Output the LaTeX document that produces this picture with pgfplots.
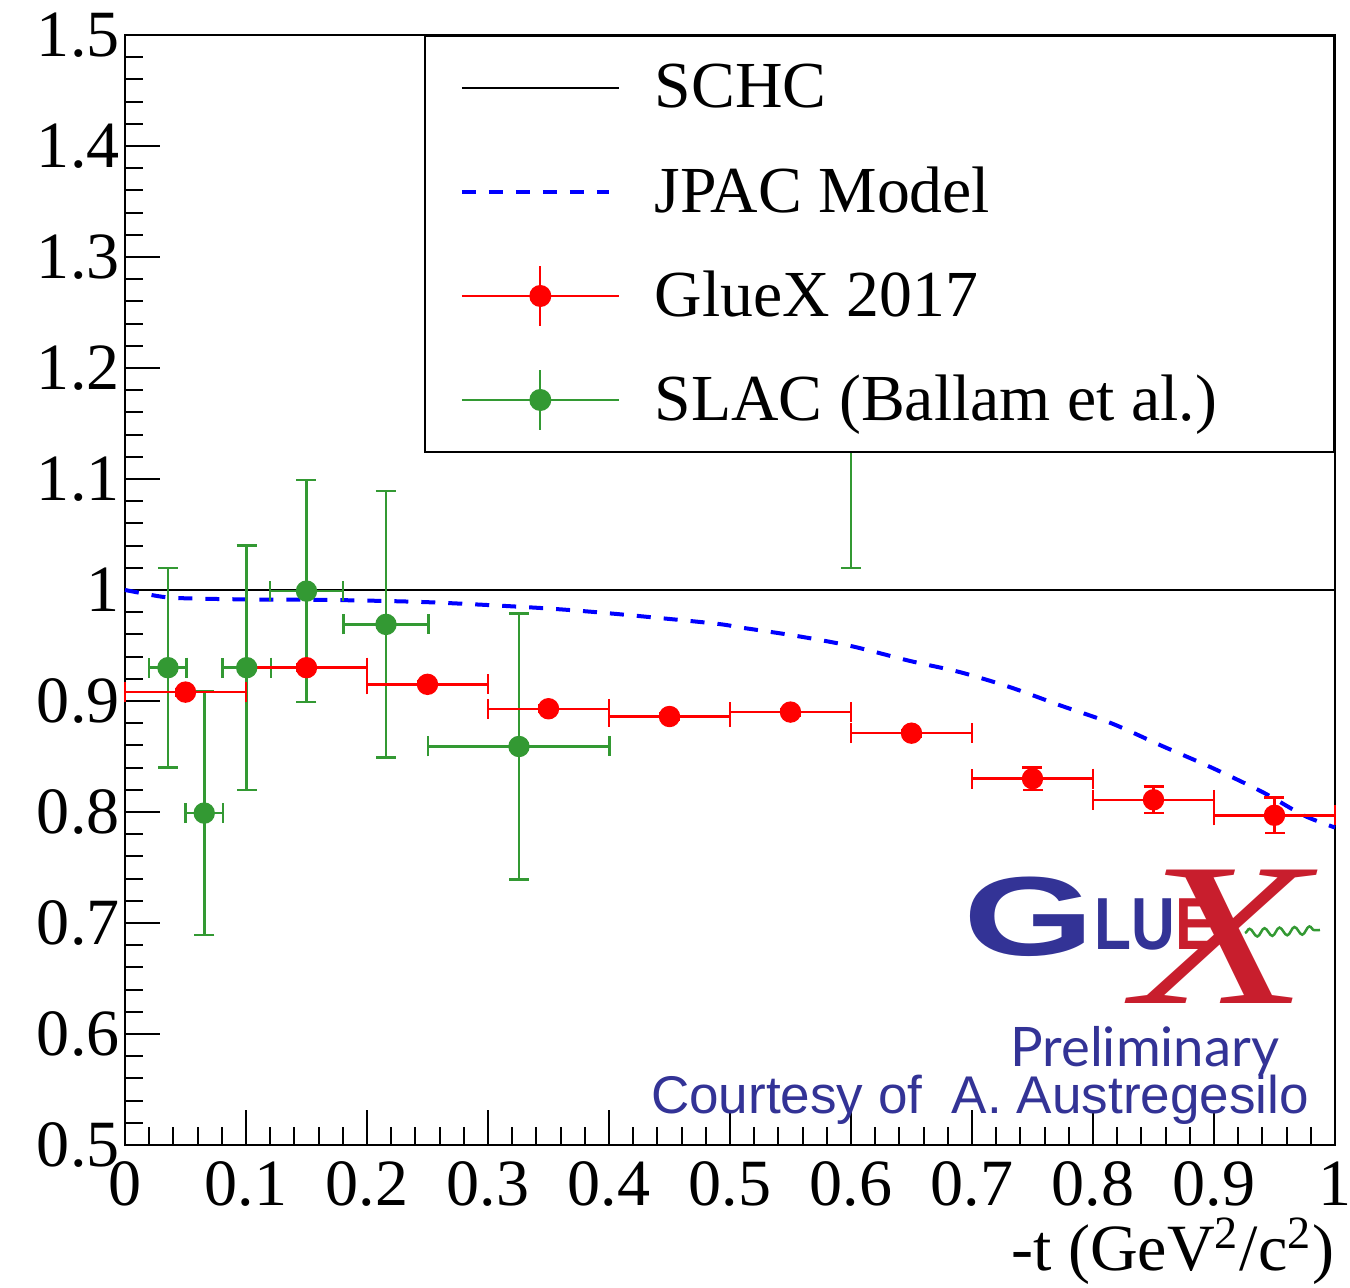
\documentclass[border=0pt]{standalone}
\usepackage{fontspec}
\setmainfont{Liberation Serif}
\newfontfamily\lsans{Liberation Sans}
\newfontfamily\lato{Lato}
\usepackage{pgfplots}
\pgfplotsset{compat=1.18}
\usetikzlibrary{decorations.pathmorphing, arrows.meta}
\definecolor{rootgreen}{RGB}{51,153,51}
\definecolor{logoblue}{RGB}{51,51,150}
\definecolor{logored}{RGB}{200,30,45}
\newcommand\tickf{\fontsize{18.8}{22}\selectfont}
\newcommand\legf{\fontsize{18.7}{22}\selectfont}

\begin{document}
\begin{tikzpicture}
\useasboundingbox (-12.5mm,-14.3mm) rectangle (122.5mm,114.5mm);
\begin{axis}[
  at={(0,0)}, anchor=south west,
  width=121mm, height=111mm, scale only axis,
  xmin=0, xmax=1, ymin=0.5, ymax=1.5,
  xtick={0,0.1,0.2,0.3,0.4,0.5,0.6,0.7,0.8,0.9,1},
  ytick={0.5,0.6,0.7,0.8,0.9,1,1.1,1.2,1.3,1.4,1.5},
  minor tick num=4,
  tick pos=left, tick align=inside,
  major tick length=3.5mm, minor tick length=1.8mm,
  axis line style={line width=0.25mm},
  tick style={black, line width=0.2mm},
  /pgf/number format/assume math mode=true,
  ticklabel style={font=\tickf},
  yticklabel style={xshift=0.7mm},
  xticklabel style={yshift=-0.4mm},
  xlabel={-t (GeV\textsuperscript{2}/c\textsuperscript{2})},
  xlabel style={font=\tickf, at={(axis description cs:1,0)}, anchor=base east, yshift=-12.6mm, inner sep=0pt},
  clip=false,
  legend style={at={(rel axis cs:1,1)}, anchor=north east, draw=black, line width=0.2mm, fill=white, font=\legf, inner xsep=3.5mm, inner ysep=0mm, row sep=0pt, column sep=3.5mm, nodes={inner sep=0pt, minimum height=10.4mm}},
  legend cell align=left,
]
% SCHC
\addplot[black, line width=0.2mm, legend image code/.code={\draw[black, line width=0.2mm] (0mm,0mm) -- (15.7mm,0mm);}] coordinates {(0,1) (1,1)};
\addlegendentry{SCHC}
% JPAC model
\addplot[blue, line width=0.4mm, dash pattern=on 1.4mm off 1.3mm, smooth, legend image code/.code={\draw[blue, line width=0.4mm, dash pattern=on 1.4mm off 1.3mm] (0mm,0mm) -- (14.7mm,0mm);}] coordinates {
(0,1.0) (0.03,0.994) (0.05,0.9925) (0.1,0.9915) (0.17,0.991) (0.25,0.989) (0.34,0.984) (0.4,0.979) (0.4856,0.970) (0.51,0.966) (0.555,0.9586) (0.6,0.9495) (0.649,0.936) (0.69,0.926) (0.731,0.9126) (0.773,0.896) (0.815,0.880) (0.856,0.860) (0.898,0.840) (0.94,0.818) (0.974,0.797) (1.0,0.786)
};
\addlegendentry{JPAC Model}
% SLAC (drawn below GlueX)
\addplot[rootgreen, only marks, mark=*, mark size=1mm, forget plot, error bars/.cd, x dir=both, x explicit, y dir=both, y explicit, error bar style={rootgreen, line width=0.25mm}, error mark=-, error mark options={rotate=90, rootgreen, mark size=1mm, line width=0.25mm}] table[x=x, y=y, x error=ex, y error=ey] {
x y ex ey
0.0355 0.930 0.0155 0.090
0.0655 0.799 0.0155 0.110
0.1006 0.930 0.020 0.110
0.150 0.999 0.030 0.100
0.2157 0.969 0.035 0.120
0.3256 0.859 0.075 0.120
0.600 1.160 0.100 0.140
};
% GlueX 2017
\addplot[red, only marks, mark=*, mark size=1mm, legend image code/.code={\draw[red, line width=0.2mm] (0mm,0mm) -- (15.7mm,0mm); \draw[red, line width=0.2mm] (7.85mm,-3mm) -- (7.85mm,3mm); \fill[red] (7.85mm,0mm) circle (1mm);}, error bars/.cd, x dir=both, x explicit, y dir=both, y explicit, error bar style={red, line width=0.25mm}, error mark=-, error mark options={rotate=90, red, mark size=1mm, line width=0.25mm}] table[x=x, y=y, x error=ex, y error=ey] {
x y ex ey
0.05 0.908 0.05 0.003
0.15 0.930 0.05 0.003
0.25 0.915 0.05 0.003
0.35 0.893 0.05 0.003
0.45 0.886 0.05 0.003
0.55 0.890 0.05 0.003
0.65 0.871 0.05 0.003
0.75 0.830 0.05 0.010
0.85 0.811 0.05 0.012
0.95 0.797 0.05 0.016
};
\addlegendentry{GlueX 2017}
\addlegendimage{legend image code/.code={\draw[rootgreen, line width=0.2mm] (0mm,0mm) -- (15.7mm,0mm); \draw[rootgreen, line width=0.2mm] (7.85mm,-3mm) -- (7.85mm,3mm); \fill[rootgreen] (7.85mm,0mm) circle (1mm);}}
\addlegendentry{SLAC (Ballam et al.)\hspace*{8.2mm}}
% logo and notes
\node[anchor=base west, inner sep=0pt, text=logoblue, font=\lsans\bfseries\fontsize{32}{32}\selectfont, xscale=1.5] at (rel axis cs:0.692,0.171) {G};
\node[anchor=base west, inner sep=0pt, text=logoblue, font=\lsans\bfseries\fontsize{21}{21}\selectfont, xscale=0.82] at (rel axis cs:0.801,0.1757) {LU{\color{logored}E}};
\node[anchor=center, inner sep=0pt, text=logored, font=\itshape\fontsize{58}{58}\selectfont, xscale=1.4] at (rel axis cs:0.9066,0.1874) {X};
\draw[rootgreen, line width=0.25mm, decorate, decoration={snake, amplitude=0.4mm, segment length=1.5mm}] (rel axis cs:0.9256,0.191) -- (rel axis cs:0.9876,0.1937);
\node[anchor=base east, inner sep=0pt, text=logoblue, font=\lato\fontsize{15.5}{16}\selectfont] at (rel axis cs:0.9545,0.0703) {Preliminary};
\node[anchor=base east, inner sep=0pt, text=logoblue, font=\lsans\fontsize{15.1}{16}\selectfont] at (rel axis cs:0.979,0.0288) {Courtesy of\ \ A. Austregesilo};
\end{axis}
\end{tikzpicture}
\end{document}
